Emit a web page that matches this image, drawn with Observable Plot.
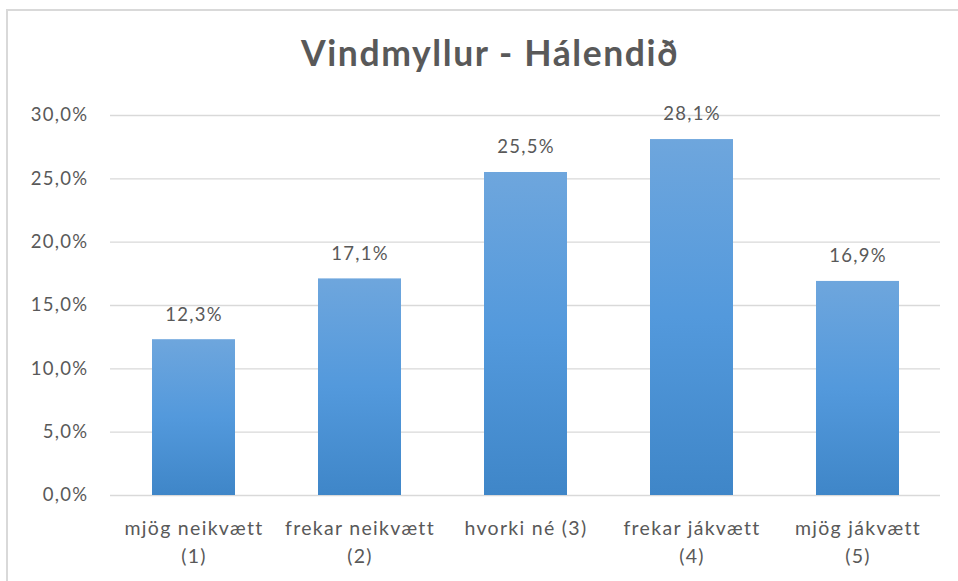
<!DOCTYPE html>
<html><head><meta charset="utf-8">
<script src="https://cdn.jsdelivr.net/npm/d3@7"></script>
<script src="https://cdn.jsdelivr.net/npm/@observablehq/plot@0.6"></script>
<style>
body{margin:0;background:#fff;font-family:Lato,"Open Sans",sans-serif;}
#frame{position:absolute;left:6px;top:9px;width:960px;height:580px;border-left:2px solid #d9d9d9;border-top:2px solid #d9d9d9;}
#title{position:absolute;left:0;top:31px;width:980px;text-align:center;font-size:35.5px;letter-spacing:1.6px;font-weight:bold;color:#595959;}
#chart{position:absolute;left:0;top:90px;}
#chart svg text{letter-spacing:1.3px;}
</style></head>
<body>
<div id="frame"></div>
<div id="title">Vindmyllur - Hálendið</div>
<div id="chart"></div>
<script>
const categories = ["mjög neikvætt\n(1)", "frekar neikvætt\n(2)", "hvorki né (3)", "frekar jákvætt\n(4)", "mjög jákvætt\n(5)"];
const values = [12.3, 17.1, 25.5, 28.1, 16.9];
const yTicks = [0, 5, 10, 15, 20, 25, 30];

const data = categories.map((c, i) => ({cat: c, val: values[i]}));
const fmt = v => v.toFixed(1).replace(".", ",") + "%";

const plot = Plot.plot({
  width: 958,
  height: 491,
  marginTop: 25,
  marginBottom: 86,
  marginLeft: 110,
  marginRight: 18,
  style: {fontFamily: "Lato, 'Open Sans', sans-serif", fontSize: "18.5px", color: "#595959", background: "transparent"},
  x: {domain: categories, paddingInner: 0.5, paddingOuter: 0.25, label: null},
  y: {domain: [0, 30], label: null},
  marks: [
    () => {
      const ns = "http://www.w3.org/2000/svg";
      const defs = document.createElementNS(ns, "defs");
      defs.innerHTML = `<linearGradient id="barGrad" x1="0" y1="0" x2="0" y2="1">
        <stop offset="0" stop-color="#6ea6dd"/>
        <stop offset="0.5" stop-color="#5399dc"/>
        <stop offset="1" stop-color="#3f86c8"/></linearGradient>
        <filter id="sh" x="-10%" y="-10%" width="120%" height="120%"><feDropShadow dx="1.5" dy="0" stdDeviation="1.5" flood-color="#000" flood-opacity="0.25"/></filter>`;
      return defs;
    },
    Plot.gridY(yTicks, {stroke: "#d9d9d9", strokeOpacity: 1, strokeWidth: 1.3}),
    Plot.axisY(yTicks, {tickSize: 0, tickPadding: 22, tickFormat: fmt, fontSize: 18.5, fill: "#595959"}),
    Plot.axisX({tickSize: 0, tickPadding: 19, fontSize: 19.5, lineHeight: 1.45, fill: "#595959", label: null}),
    Plot.barY(data, {x: "cat", y: "val", fill: "url(#barGrad)", style: {filter: "url(#sh)"}}),
    Plot.text(data, {x: "cat", y: "val", text: d => fmt(d.val), dy: -25, fontSize: 18.5, fill: "#595959"})
  ]
});
document.getElementById("chart").appendChild(plot);
</script>
</body></html>
